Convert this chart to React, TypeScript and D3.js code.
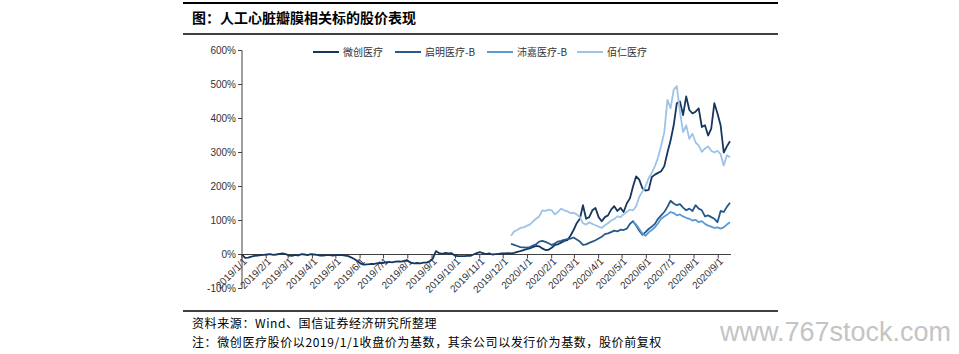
import React from "react";
import * as d3 from "d3";

// 以4天为采样步长，从各自起始日开始读图取值（%）
const stepDays = 4;

const weichuangValues = [
  0, -10, -9, -6, -4, -3, -2, -1,
  0, 1, -1, 0, 2, 3, 1, -3,
  -4, -1, -3, 1, 0, -2, 1, 0,
  -1, -3, -3, -2, -2, -3, -2, -1,
  -2, -3, -5, -9, -14, -20, -27, -30,
  -29, -28, -28, -26, -25, -25, -23, -22,
  -23, -21, -20, -21, -18, -19, -24, -26,
  -25, -26, -24, -24, -20, -12, 10, 4,
  2, 5, 3, 4, -3, -5, -5, -5,
  -4, -4, 0, 4, 7, 4, 1, 3,
  0, 1, 2, 3, 3, 4, 3, 5,
  8, 10, 13, 16,
  18, 22, 25, 24, 18, 13, 14, 20,
  28, 30, 35, 40, 42, 55, 72, 92,
  105, 145, 105, 110, 130, 137, 110, 98,
  110, 115, 132, 142, 128, 137, 125, 150,
  165, 200, 230, 220, 195, 188, 190, 228,
  235, 240, 245, 260, 300, 335, 380, 445,
  450, 410, 465, 425, 415, 420, 430, 375,
  380, 350, 370, 445, 415, 380, 300, 318,
  333,
];

const qimingValues = [
  31, 28, 25, 22, 21, 20, 22, 26,
  30, 38, 40, 37, 33, 28, 32, 38,
  40, 43, 45, 47, 50, 44, 38, 28,
  30, 34, 38, 42, 47, 52, 60, 62,
  66, 70, 68, 73, 72, 76, 90, 98,
  85, 70, 58, 66, 75, 82, 90, 105,
  115, 125, 140, 158, 150, 145, 148, 138,
  130, 135, 128, 145, 135, 130, 112, 115,
  110, 105, 95, 128, 125, 140, 152,
];

const peijiaValues = [
  95, 88, 75, 62, 55, 65, 72, 80,
  92, 105, 112, 118, 125, 122, 115, 118,
  112, 108, 105, 100, 102, 95, 98, 90,
  85, 82, 78, 80, 76, 80, 88, 95,
];

const bairenValues = [
  55, 68, 72, 78, 80, 84, 88, 97,
  105, 112, 130, 128, 132, 130, 118, 125,
  135, 130, 127, 122, 123, 118, 110, 92,
  88, 95, 90, 86, 82, 78, 86, 92,
  100, 104, 112, 110, 118, 125, 132, 130,
  142, 170, 185, 200, 225, 240, 260, 285,
  320, 360, 455, 430, 485, 495, 420, 360,
  380, 340, 355, 330, 320, 302, 312, 318,
  305, 300, 305, 295, 262, 292, 286,
];

const seriesNames = ["微创医疗", "启明医疗-B", "沛嘉医疗-B", "佰仁医疗"];
const seriesStarts = ["2019-01-01", "2019-12-11", "2020-05-15", "2019-12-11"];
const seriesColors = ["#17375e", "#28598c", "#5b9bd5", "#9dc3e6"];

const monthLabels = [
  "2019/1/1", "2019/2/1", "2019/3/1", "2019/4/1", "2019/5/1", "2019/6/1", "2019/7/1",
  "2019/8/1", "2019/9/1", "2019/10/1", "2019/11/1", "2019/12/1", "2020/1/1", "2020/2/1",
  "2020/3/1", "2020/4/1", "2020/5/1", "2020/6/1", "2020/7/1", "2020/8/1", "2020/9/1",
];
const yTicks = [-100, 0, 100, 200, 300, 400, 500, 600];

const parseDay = d3.timeParse("%Y-%m-%d");
const parseSlash = (s: string) => {
  const [yy, mm, dd] = s.split("/").map(Number);
  return new Date(yy, mm - 1, dd);
};

const latin = "'Liberation Sans', Arial, sans-serif";
const cjk = "'Noto Sans CJK SC', sans-serif";

export default function App() {
  const width = 959;
  const height = 354;

  const x = d3
    .scaleTime()
    .domain([new Date(2019, 0, 1), new Date(2020, 8, 16)])
    .range([242, 730]);
  const y = d3.scaleLinear().domain([-100, 600]).range([288.5, 50.5]);

  const allValues = [weichuangValues, qimingValues, peijiaValues, bairenValues];
  const series = allValues.map((vals, k) => {
    const start = parseDay(seriesStarts[k]) as Date;
    return vals.map((v, i) => ({ date: d3.timeDay.offset(start, i * stepDays), value: v }));
  });

  const line = d3
    .line<{ date: Date; value: number }>()
    .x((d) => x(d.date))
    .y((d) => y(d.value));

  // 画线顺序：微创、启明、沛嘉、佰仁
  const drawOrder = [0, 1, 2, 3];

  const legendX = [313, 395, 487, 577];
  const y0 = y(0);

  return (
    <svg
      width={width}
      height={height}
      style={{ position: "absolute", left: 0, top: 0, background: "#fff" }}
    >
      {/* 标题 */}
      <line x1={183} x2={778} y1={3} y2={3} stroke="#000" strokeWidth={2} />
      <text x={192} y={23} fontFamily={cjk} fontWeight={700} fontSize={14} fill="#000">
        图：人工心脏瓣膜相关标的股价表现
      </text>
      <line x1={183} x2={778} y1={34} y2={34} stroke="#000" strokeWidth={1.5} />

      {/* y 轴 */}
      <line x1={242} x2={242} y1={y(600)} y2={y(-100)} stroke="#404040" strokeWidth={1} />
      {yTicks.map((t) => (
        <g key={t}>
          <line x1={238} x2={242} y1={y(t)} y2={y(t)} stroke="#404040" />
          <text
            x={236}
            y={y(t)}
            dy="0.35em"
            textAnchor="end"
            fontFamily={latin}
            fontSize={10}
            fill="#333"
          >
            {t}%
          </text>
        </g>
      ))}

      {/* x 轴 */}
      <line x1={242} x2={731} y1={y0} y2={y0} stroke="#404040" strokeWidth={1} />
      {monthLabels.map((m) => {
        const px = x(parseSlash(m));
        return (
          <g key={m}>
            <line x1={px} x2={px} y1={y0} y2={y0 + 4} stroke="#404040" />
            <text
              transform={`translate(${px + 3},${y0 + 5}) rotate(-45)`}
              dy="0.35em"
              textAnchor="end"
              fontFamily={latin}
              fontSize={10}
              fill="#333"
            >
              {m}
            </text>
          </g>
        );
      })}

      {/* 折线 */}
      {drawOrder.map((k) => (
        <path
          key={seriesNames[k]}
          d={line(series[k]) || ""}
          fill="none"
          stroke={seriesColors[k]}
          strokeWidth={1.8}
          strokeLinejoin="round"
        />
      ))}

      {/* 图例 */}
      {seriesNames.map((name, k) => (
        <g key={name} transform={`translate(${legendX[k]},52)`}>
          <line x1={0} x2={26} y1={0} y2={0} stroke={seriesColors[k]} strokeWidth={2} />
          <text x={30} y={0} dy="0.35em" fontFamily={cjk} fontSize={10} fill="#333">
            {name}
          </text>
        </g>
      ))}

      {/* 脚注 */}
      <line x1={183} x2={778} y1={311} y2={311} stroke="#000" strokeWidth={1.5} />
      <text x={192} y={328} fontFamily={cjk} fontSize={12} letterSpacing={0.6} fill="#000">
        资料来源：Wind、国信证券经济研究所整理
      </text>
      <text x={192} y={347} fontFamily={cjk} fontSize={12} letterSpacing={0.6} fill="#000">
        注：微创医疗股价以2019/1/1收盘价为基数，其余公司以发行价为基数，股价前复权
      </text>
      <text x={720} y={341} fontFamily={latin} fontSize={27} fill="#c4c4c4">
        www.767stock.com
      </text>
    </svg>
  );
}
